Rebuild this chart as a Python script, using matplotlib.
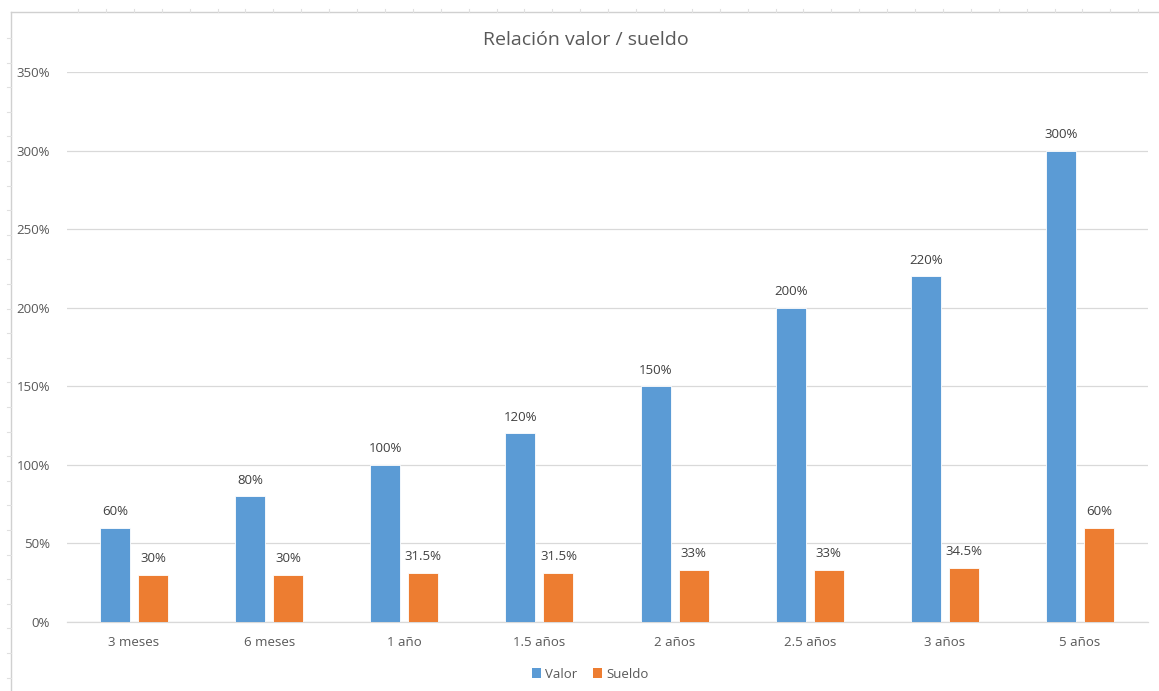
import matplotlib
matplotlib.use("Agg")
import matplotlib.pyplot as plt
from matplotlib.lines import Line2D
from matplotlib.patches import Patch
import numpy as np

categories = ["3 meses", "6 meses", "1 año", "1.5 años", "2 años", "2.5 años", "3 años", "5 años"]
valor = [60, 80, 100, 120, 150, 200, 220, 300]
sueldo = [30, 30, 31.5, 31.5, 33, 33, 34.5, 60]
valor_labels = ["60%", "80%", "100%", "120%", "150%", "200%", "220%", "300%"]
sueldo_labels = ["30%", "30%", "31.5%", "31.5%", "33%", "33%", "34.5%", "60%"]
y_ticks = [0, 50, 100, 150, 200, 250, 300, 350]

BLUE = "#5b9bd5"
ORANGE = "#ed7d31"
TEXT = "#595959"
GRID = "#d9d9d9"
FONT = ["Open Sans", "DejaVu Sans"]
plt.rcParams["font.family"] = FONT

W, H = 1159, 691
fig = plt.figure(figsize=(W / 100, H / 100), dpi=100)
fig.patch.set_facecolor("white")

# plot area in pixel coordinates
left, right, top, bottom = 66.5, 1147.5, 72, 622
ax = fig.add_axes([left / W, 1 - bottom / H, (right - left) / W, (bottom - top) / H])

x = np.arange(len(categories))
bw = 0.222
off = 0.141
b1 = ax.bar(x - off, valor, bw, color=BLUE, edgecolor="white", linewidth=0.6, zorder=3)
b2 = ax.bar(x + off, sueldo, bw, color=ORANGE, edgecolor="white", linewidth=0.6, zorder=3)

for bars, labels in ((b1, valor_labels), (b2, sueldo_labels)):
    for rect, lab in zip(bars, labels):
        ax.annotate(lab, (rect.get_x() + rect.get_width() / 2, rect.get_height()),
                    xytext=(0, 7), textcoords="offset points", ha="center", va="bottom",
                    fontsize=9.5, color="#404040")

ax.set_xlim(-0.5, len(categories) - 0.5)
ax.set_ylim(0, 350)
ax.set_yticks(y_ticks)
ax.set_yticklabels([f"{v}%" for v in y_ticks])
ax.set_xticks(x)
ax.set_xticklabels(categories)
ax.tick_params(axis="both", length=0, colors=TEXT, labelsize=9.5)
ax.tick_params(axis="y", pad=12)
ax.tick_params(axis="x", pad=10)
ax.grid(axis="y", color=GRID, linewidth=0.9, zorder=0)
for s in ("top", "right", "left"):
    ax.spines[s].set_visible(False)
ax.spines["bottom"].set_color(GRID)
ax.spines["bottom"].set_linewidth(0.9)

fig.text(586 / W, 1 - 40 / H, "Relación valor / sueldo", ha="center", va="center",
         fontsize=14, color=TEXT)

handles = [Patch(facecolor=BLUE, label="Valor"), Patch(facecolor=ORANGE, label="Sueldo")]
fig.legend(handles=handles, loc="center", bbox_to_anchor=(590 / W, 1 - 674 / H), ncol=2,
           frameon=False, fontsize=9.5, handlelength=0.7, handleheight=0.7,
           handletextpad=0.3, columnspacing=1.2, labelcolor=TEXT)

# chart frame and worksheet grid edges
def px_line(xs, ys, **kw):
    fig.add_artist(Line2D([v / W for v in xs], [1 - v / H for v in ys],
                          transform=fig.transFigure, **kw))

px_line([11, W], [12, 12], color="#d0d0d0", linewidth=1)
px_line([11, 11], [12, H], color="#d0d0d0", linewidth=1)
for xt in np.arange(78, W, 27.9):
    px_line([xt, xt], [9, 12], color="#e0e0e0", linewidth=0.8)
for yt in np.arange(38, H, 24.6):
    px_line([7, 11], [yt, yt], color="#e0e0e0", linewidth=0.8)

fig.savefig("out.png", dpi=100, facecolor="white")
